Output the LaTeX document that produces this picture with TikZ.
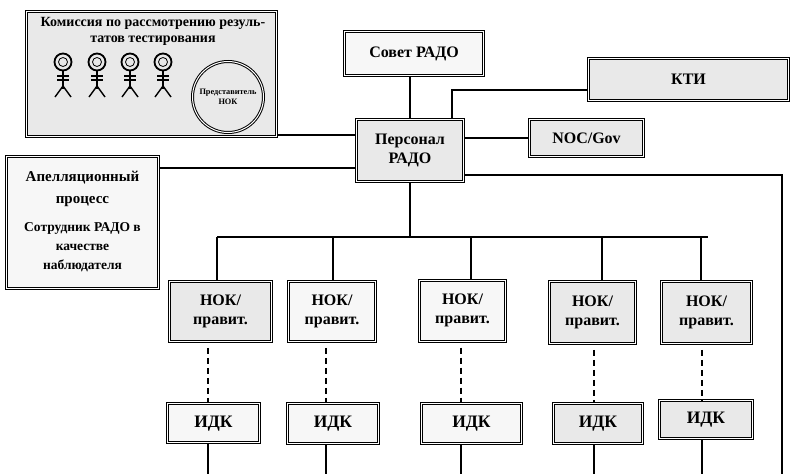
\documentclass[tikz,border=0pt]{standalone}
\usepackage{fontspec}
\setmainfont{Liberation Serif}

\begin{document}
\begin{tikzpicture}[x=1pt, y=-1pt,
    boite/.style={draw, line width=1pt, double=white, double distance=1pt,
        font=\bfseries, align=center, inner sep=1pt},
    fonce/.style={fill=gray!17},
    clair/.style={fill=gray!6},
    lien/.style={line width=1.2pt},
    pointille/.style={line width=1.5pt, dash pattern=on 6pt off 4pt},
    grand/.style={font=\bfseries\fontsize{16}{19}\selectfont},
    gros/.style={font=\bfseries\fontsize{17.5}{20}\selectfont}]

    % Cadre
    \useasboundingbox (0,0) rectangle (792,474);

    % Commission
    \node[boite, fonce, minimum width=250pt, minimum height=125pt] (commission) at (151.5,74) {};
    \node[font=\bfseries\fontsize{14}{16}\selectfont, align=center] (titre) at (153,31)
        {Комиссия по рассмотрению резуль-\\татов тестирования};
    \foreach \x in {63,97,130,163} {
        \draw[line width=1.8pt] (\x,62) circle (8.5);
        \draw[line width=0.8pt] (\x,62) circle (4.5);
        \draw[line width=1.4pt] (\x,71) -- (\x,89);
        \draw[line width=1.2pt] (\x-6,76) -- (\x+6,76) (\x-6,80) -- (\x+6,80);
        \draw[line width=1.4pt] (\x-8,97) -- (\x,86) -- (\x+8,97);
    }
    \node[boite, fonce, circle, minimum size=71pt,
        font=\bfseries\fontsize{8.3}{10}\selectfont] (representant) at (228,97) {Представитель\\НОК};

    % Haut
    \node[boite, clair, grand, minimum width=139pt, minimum height=44pt] (conseil) at (414,53.5) {Совет РАДО};
    \node[boite, fonce, grand, minimum width=107pt, minimum height=62pt] (personnel) at (410,150.5) {Персонал\\РАДО};
    \node[boite, fonce, grand, minimum width=114pt, minimum height=37pt] (noc) at (586.5,138) {NOC/Gov};
    \node[boite, fonce, grand, minimum width=200pt, minimum height=42pt] (kti) at (688.5,79.5) {КТИ};

    % Appel
    \node[boite, clair, minimum width=152pt, minimum height=132pt, font=\bfseries\fontsize{15}{22}\selectfont]
        (appel) at (82.5,222)
        {Апелляционный\\процесс\\[6pt]{\fontsize{13.5}{17}\selectfont Сотрудник РАДО в}\\[-3pt]
         {\fontsize{13.5}{17}\selectfont качестве}\\[-3pt]{\fontsize{13.5}{17}\selectfont наблюдателя}};

    % Liaisons du haut
    \coordinate (g1) at (300,135);
    \coordinate (g2) at (300,168);
    \coordinate (k) at (452,90);
    \coordinate (d1) at (782,175);
    \coordinate (d2) at (782,474);
    \draw[lien] (conseil.south -| personnel.north) -- (personnel.north);
    \draw[lien] (commission.east |- g1) -- (personnel.west |- g1);
    \draw[lien] (appel.east |- g2) -- (personnel.west |- g2);
    \draw[lien] (personnel.north -| k) -- (k) -- (kti.west |- k);
    \draw[lien] (personnel.east |- noc.west) -- (noc.west);
    \draw[lien] (personnel.east |- d1) -- (d1) -- (d2);

    % Barre horizontale
    \coordinate (h1) at (217,237);
    \coordinate (h2) at (333,237);
    \coordinate (h3) at (471,237);
    \coordinate (h4) at (602,237);
    \coordinate (h5) at (701,237);
    \coordinate (hfin) at (708,237);
    \draw[lien] (h1) -- (hfin);
    \draw[lien] (personnel.south) -- (personnel.south |- h1);

    % Colonne 1
    \node[boite, fonce, grand, minimum width=102pt, minimum height=60pt] (nok1) at (220.5,311.3) {НОК/\\правит.};
    \node[boite, clair, gros, minimum width=92pt, minimum height=39pt] (idk1) at (213.5,423.2) {ИДК};
    \coordinate (v1) at (208,474);
    \draw[lien] (h1) -- (nok1.north -| h1);
    \draw[pointille] (nok1.south -| v1) ++(0,6) -- (idk1.north -| v1);
    \draw[lien] (idk1.south -| v1) -- (v1);

    % Colonne 2
    \node[boite, clair, grand, minimum width=87pt, minimum height=60pt] (nok2) at (332,311.3) {НОК/\\правит.};
    \node[boite, clair, gros, minimum width=91pt, minimum height=40pt] (idk2) at (333,423.7) {ИДК};
    \coordinate (v2) at (326,474);
    \draw[lien] (h2) -- (nok2.north -| h2);
    \draw[pointille] (nok2.south -| v2) ++(0,6) -- (idk2.north -| v2);
    \draw[lien] (idk2.south -| v2) -- (v2);

    % Colonne 3
    \node[boite, clair, grand, minimum width=86pt, minimum height=61pt] (nok3) at (462.5,310.7) {НОК/\\правит.};
    \node[boite, clair, gros, minimum width=100pt, minimum height=40pt] (idk3) at (471.5,423.7) {ИДК};
    \coordinate (v3) at (461,474);
    \draw[lien] (h3) -- (nok3.north -| h3);
    \draw[pointille] (nok3.south -| v3) ++(0,6) -- (idk3.north -| v3);
    \draw[lien] (idk3.south -| v3) -- (v3);

    % Colonne 4
    \node[boite, fonce, grand, minimum width=86pt, minimum height=62pt] (nok4) at (592.5,312.3) {НОК/\\правит.};
    \node[boite, fonce, gros, minimum width=89pt, minimum height=40pt] (idk4) at (598,423.7) {ИДК};
    \coordinate (v4) at (594,474);
    \draw[lien] (h4) -- (nok4.north -| h4);
    \draw[pointille] (nok4.south -| v4) ++(0,6) -- (idk4.north -| v4);
    \draw[lien] (idk4.south -| v4) -- (v4);

    % Colonne 5
    \node[boite, fonce, grand, minimum width=90pt, minimum height=62pt] (nok5) at (706.5,312.3) {НОК/\\правит.};
    \node[boite, fonce, gros, minimum width=93pt, minimum height=38pt] (idk5) at (706,419.7) {ИДК};
    \coordinate (v5) at (702,474);
    \draw[lien] (h5) -- (nok5.north -| h5);
    \draw[pointille] (nok5.south -| v5) ++(0,6) -- (idk5.north -| v5);
    \draw[lien] (idk5.south -| v5) -- (v5);

\end{tikzpicture}
\end{document}
